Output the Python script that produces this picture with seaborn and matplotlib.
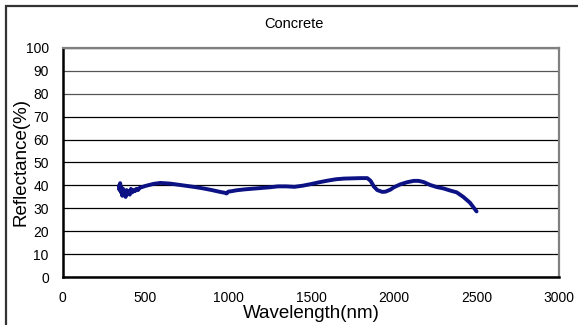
import matplotlib
matplotlib.use("Agg")
import matplotlib.pyplot as plt
import seaborn as sns
import pandas as pd
from matplotlib.patches import Rectangle

title = "Concrete"
x_label = "Wavelength(nm)"
y_label = "Reflectance(%)"
x_ticks = [0, 500, 1000, 1500, 2000, 2500, 3000]
y_ticks = [0, 10, 20, 30, 40, 50, 60, 70, 80, 90, 100]

wavelength = [340, 343, 347, 352, 356, 360, 365, 370, 375, 380, 386, 392, 398, 405,
              412, 420, 428, 436, 445, 455, 465, 475,
              500, 550, 590, 650, 700, 750, 800, 850, 900, 950, 980, 990, 1000, 1020,
              1050, 1100, 1150, 1200, 1250, 1300, 1350, 1400, 1450, 1500, 1550, 1600,
              1650, 1700, 1750, 1800, 1840, 1860, 1880, 1900, 1930, 1950, 1980, 2000,
              2040, 2080, 2120, 2150, 2180, 2220, 2260, 2300, 2340, 2380, 2420, 2460, 2500]
reflectance = [40, 38, 41, 37, 39, 35.5, 38.5, 36, 37.5, 35, 38, 36.5, 37.5, 36,
               38.5, 37, 38, 37.5, 38.5, 38, 39, 39.2,
               39.8, 40.7, 41.1, 40.8, 40.3, 39.8, 39.3, 38.7, 38.0, 37.2, 36.8, 36.5, 37.3, 37.5,
               37.9, 38.3, 38.6, 38.9, 39.2, 39.6, 39.6, 39.4, 39.9, 40.6, 41.4, 42.1,
               42.7, 43.0, 43.1, 43.2, 43.2, 42.0, 39.5, 38.0, 37.2, 37.3, 38.2, 39.2,
               40.5, 41.4, 42.0, 42.0, 41.5, 40.2, 39.3, 38.7, 37.8, 37.0, 35.0, 32.5, 28.7]

df = pd.DataFrame({"wl": wavelength, "r": reflectance})

sns.set_theme(style="white")
plt.rcParams["font.family"] = ["Liberation Sans", "DejaVu Sans"]

fig = plt.figure(figsize=(5.78, 3.25), dpi=100)
ax = fig.add_axes([0.1085, 0.1468, 0.8592, 0.7064])

sns.lineplot(data=df, x="wl", y="r", ax=ax, color="#0c1283", linewidth=2.8,
             sort=False, estimator=None)

ax.set_xlim(0, 3000)
ax.set_ylim(0, 100)
ax.set_xticks(x_ticks)
ax.set_yticks(y_ticks)
ax.set_xticklabels([str(t) for t in x_ticks], fontsize=10)
ax.set_yticklabels([str(t) for t in y_ticks], fontsize=10)
ax.tick_params(axis="x", direction="in", length=4, width=1, color="black", pad=10, colors="black")
ax.tick_params(axis="y", direction="in", length=4, width=1, color="black", pad=10, colors="black")

ax.yaxis.grid(True, color="black", linewidth=0.9)
for gl, t in zip(ax.get_ygridlines(), y_ticks):
    if t in (80, 90):
        gl.set_color("#555555")
ax.set_axisbelow(True)

for side in ["left", "bottom"]:
    ax.spines[side].set_color("black")
    ax.spines[side].set_linewidth(1.8)
for side in ["top", "right"]:
    ax.spines[side].set_color("#808080")
    ax.spines[side].set_linewidth(1.6)

ax.set_xlabel(x_label, fontsize=13.5, color="black")
ax.set_ylabel(y_label, fontsize=13.5, color="black")
ax.xaxis.set_label_coords(0.5, -0.121)
ax.yaxis.set_label_coords(-0.066, 0.5)

fig.text(0.509, 0.926, title, fontsize=10.5, ha="center", va="center", color="black")

fig.patches.append(Rectangle((6 / 578, -0.05), 1.2, 1.05 - 6 / 325, transform=fig.transFigure,
                             fill=False, edgecolor="#333333", linewidth=1.6, zorder=10))

fig.savefig("out.png", dpi=100)
